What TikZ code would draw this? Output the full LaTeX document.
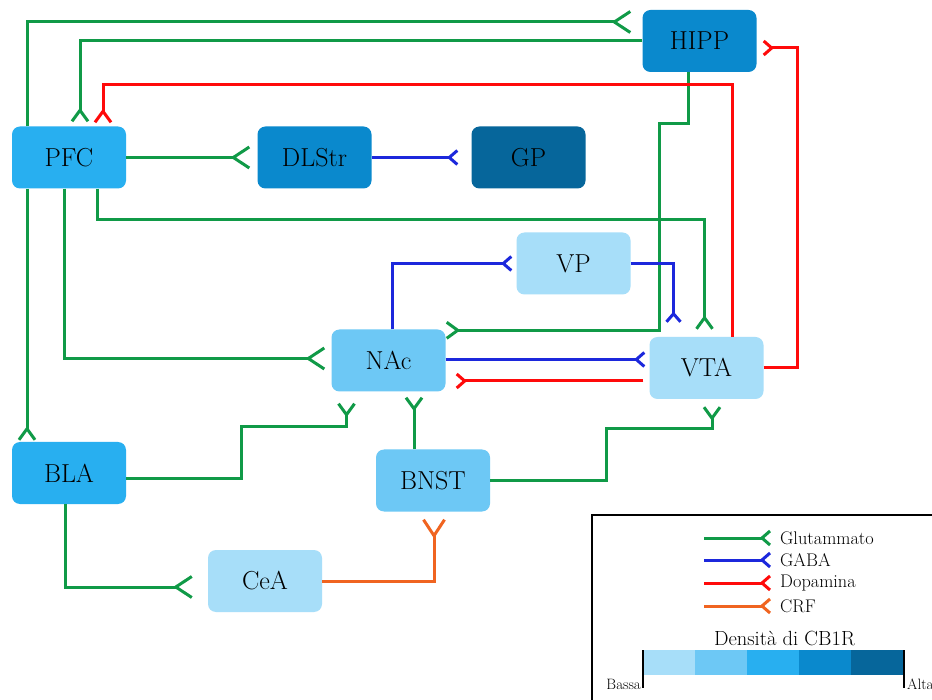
\documentclass[tikz,border=0pt]{standalone}
\usetikzlibrary{arrows.meta,calc}
\definecolor{cbA}{HTML}{A7DEF9}
\definecolor{cbB}{HTML}{6DC8F5}
\definecolor{cbC}{HTML}{28AFF0}
\definecolor{cbD}{HTML}{0A89CD}
\definecolor{cbE}{HTML}{06669B}
\definecolor{gluC}{HTML}{109A47}
\definecolor{gabaC}{HTML}{1C28DC}
\definecolor{dopaC}{HTML}{FF0A0A}
\definecolor{crfC}{HTML}{F06420}
\pgfdeclarearrow{
  name = Fork,
  parameters = {\the\pgfarrowlength,\the\pgfarrowwidth,\the\pgfarrowlinewidth},
  setup code = {
    \pgfarrowssettipend{0pt}
    \pgfarrowssetlineend{-\pgfarrowlength}
    \pgfarrowssetbackend{-\pgfarrowlength}
    \pgfarrowssavethe\pgfarrowlength
    \pgfarrowssavethe\pgfarrowwidth
    \pgfarrowssavethe\pgfarrowlinewidth
  },
  drawing code = {
    \pgfsetlinewidth{\pgfarrowlinewidth}
    \pgfsetdash{}{0pt}
    \pgfsetroundjoin
    \pgfsetbuttcap
    \pgfpathmoveto{\pgfqpoint{0pt}{.5\pgfarrowwidth}}
    \pgfpathlineto{\pgfqpoint{-\pgfarrowlength}{0pt}}
    \pgfpathlineto{\pgfqpoint{0pt}{-.5\pgfarrowwidth}}
    \pgfusepathqstroke
  },
  defaults = {length = 11pt, width = 16pt, line width = +0pt 1 1}
}
\tikzset{
  region/.style={rounded corners=8pt, minimum width=114pt, minimum height=62pt,
    inner sep=0pt, font=\fontsize{26}{30}\selectfont, text=black},
  conn/.style={line width=3pt},
  glu/.style={conn, draw=gluC},
  gaba/.style={conn, draw=gabaC},
  dopa/.style={conn, draw=dopaC},
  crf/.style={conn, draw=crfC},
  fk/.style={-{Fork[length=11pt,width=16pt]}},
  fkbig/.style={-{Fork[length=16pt,width=21pt]}},
  fksmall/.style={-{Fork[length=8pt,width=14pt]}},
  legtext/.style={inner sep=0pt, font=\fontsize{18.3}{22}\selectfont},
  endtext/.style={inner sep=0pt, font=\fontsize{15}{18}\selectfont}
}
\begin{document}
\begin{tikzpicture}[x=1pt,y=-1pt]
\useasboundingbox (0,0) rectangle (932,700);
\clip (0,0) rectangle (932,700);
\fill[white] (0,0) rectangle (932,700);

% regions
\node[region, fill=cbC] (PFC)   at (69,157.5)  {PFC};
\node[region, fill=cbD] (DLStr) at (314.5,157.5) {DLStr};
\node[region, fill=cbE] (GP)    at (528.5,157.5) {GP};
\node[region, fill=cbD] (HIPP)  at (699.5,41)  {HIPP};
\node[region, fill=cbA] (VP)    at (573.5,263.5) {VP};
\node[region, fill=cbB] (NAc)   at (388.5,360.5) {NAc};
\node[region, fill=cbA] (VTA)   at (706.5,368) {VTA};
\node[region, fill=cbC] (BLA)   at (69,473)  {BLA};
\node[region, fill=cbB] (BNST)  at (433,480.5) {BNST};
\node[region, fill=cbA] (CeA)   at (265,581)   {CeA};

% glutamate
\draw[glu,fkbig] ($(PFC.north)+(-42,0)$) |- ($(HIPP.west)+(-12,-19)$);
\draw[glu,fk] (HIPP.west) -| ($(PFC.north)+(11,-5)$);
\draw[glu,fkbig] (PFC.east) -- ($(DLStr.west)+(-8,0)$);
\draw[glu,fk] ($(PFC.south)+(28,0)$) -- ++(0,31) -| ($(VTA.north)+(-2,-8)$);
\draw[glu,fkbig] ($(PFC.south)+(-5,0)$) |- ($(NAc.west)+(-7,-2)$);
\draw[glu,fk] ($(PFC.south)+(-42,0)$) -- ($(BLA.north)+(-42,-2)$);
\draw[glu,fk] ($(HIPP.south)+(-11,0)$) -- ++(0,51) -- ++(-29,0) |- ($(NAc.north east)+(1,1)$);
\draw[glu,fk] ($(BLA.east)+(0,5)$) -- ++(115,0) -- ++(0,-51) -| ($(NAc.south)+(-42,12)$);
\draw[glu,fk] ($(BNST.north)+(-19,0)$) -- ($(NAc.south)+(25.5,6)$);
\draw[glu,fk] (BNST.east) -- ++(116,0) -- ++(0,-52) -| ($(VTA.south)+(5.5,8)$);
\draw[glu,fkbig] ($(BLA.south)+(-4,0)$) |- ($(CeA.west)+(-16,6)$);

% GABA
\draw[gaba,fksmall] (DLStr.east) -- ($(GP.west)+(-14,0)$);
\draw[gaba,fksmall] ($(NAc.north)+(3.5,0)$) |- ($(VP.west)+(-5,0)$);
\draw[gaba,fksmall] (VP.east) -| ($(VTA.north)+(-33,-15)$);
\draw[gaba,fksmall] ($(NAc.east)+(0,-1)$) -- ($(VTA.west)+(-5,-8.5)$);

% dopamine
\draw[dopa,fk] ($(VTA.north)+(25.5,0)$) -- ++(0,-252) -| ($(PFC.north)+(34,-4)$);
\draw[dopa,fksmall] (VTA.east) -- ++(34,0) |- ($(HIPP.east)+(7,7)$);
\draw[dopa,fksmall] ($(VTA.west)+(-6,13)$) -- ($(NAc.east)+(11,20.5)$);

% CRF
\draw[crf,fkbig] (CeA.east) -| ($(BNST.south)+(1,8)$);

% legend
\draw[line width=1.6pt] (592,515) rectangle (980,740);
\node[legtext, anchor=west] (lg1) at (780,538) {Glutammato};
\node[legtext, anchor=west] (lg2) at (780,560) {GABA};
\node[legtext, anchor=west] (lg3) at (780,583) {Dopamina};
\node[legtext, anchor=west] (lg4) at (780,606) {CRF};
\coordinate (ls1) at (704,538);
\coordinate (ls2) at (704,560);
\coordinate (ls3) at (704,583);
\coordinate (ls4) at (704,606);
\draw[glu,fksmall]  (ls1) -- ($(lg1.west)+(-10,0)$);
\draw[gaba,fksmall] (ls2) -- ($(lg2.west)+(-10,0)$);
\draw[dopa,fksmall] (ls3) -- ($(lg3.west)+(-10,0)$);
\draw[crf,fksmall]  (ls4) -- ($(lg4.west)+(-10,0)$);
\node[inner sep=0pt, font=\fontsize{20.5}{24}\selectfont] (dens) at (784.5,638) {Densità di CB1R};
\fill[cbA] (643,650) rectangle (695,675);
\fill[cbB] (695,650) rectangle (747,675);
\fill[cbC] (747,650) rectangle (799,675);
\fill[cbD] (799,650) rectangle (851,675);
\fill[cbE] (851,650) rectangle (904,675);
\draw[line width=1.8pt] (643,650) -- (643,688);
\draw[line width=1.8pt] (904,650) -- (904,688);
\node[endtext, anchor=east] (bassa) at (641,684) {Bassa};
\node[endtext, anchor=west] (alta) at (907,684) {Alta};
\end{tikzpicture}
\end{document}
